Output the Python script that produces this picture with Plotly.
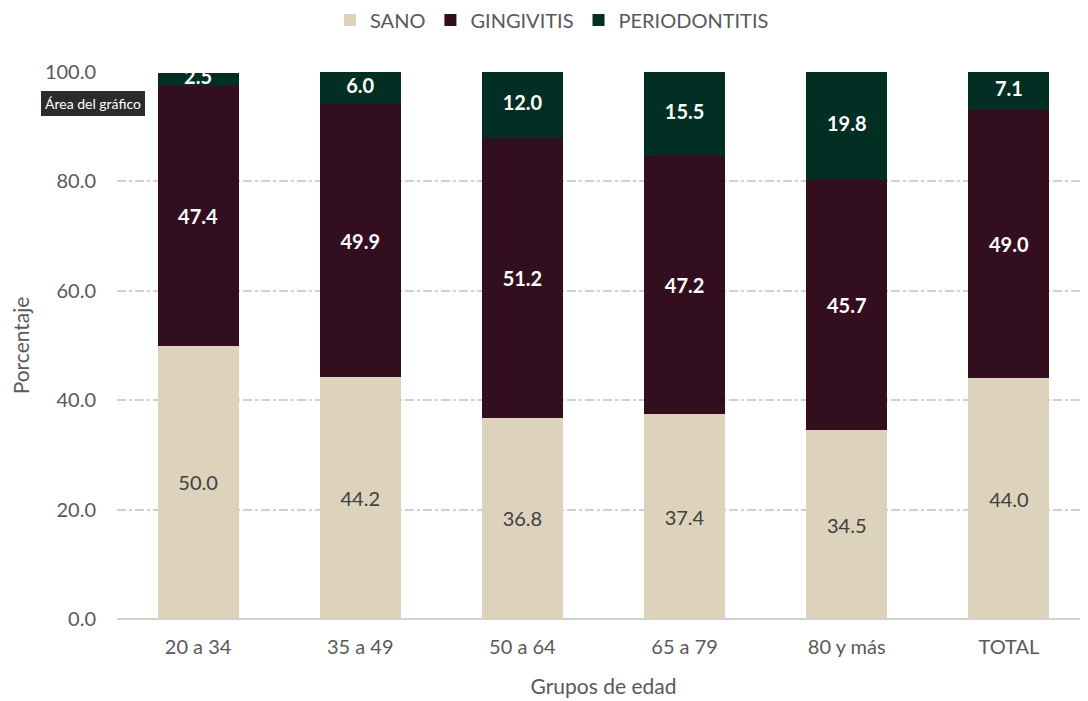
import plotly.graph_objects as go

categories = ["20 a 34", "35 a 49", "50 a 64", "65 a 79", "80 y más", "TOTAL"]
sano = [50.0, 44.2, 36.8, 37.4, 34.5, 44.0]
gingivitis = [47.4, 49.9, 51.2, 47.2, 45.7, 49.0]
periodontitis = [2.5, 6.0, 12.0, 15.5, 19.8, 7.1]
y_ticks = [0, 20, 40, 60, 80, 100]

FONT = "Lato"
fig = go.Figure()
series = [
    ("SANO", sano, "#DDD3BD", "#404040", True),
    ("GINGIVITIS", gingivitis, "#330E1F", "#FFFFFF", True),
    ("PERIODONTITIS", periodontitis, "#032E24", "#FFFFFF", False),
]
for name, vals, color, tcolor, bar_text in series:
    fig.add_trace(go.Bar(
        x=categories, y=vals, name=name, marker_color=color,
        marker_line_width=0,
        text=[f"{v:.1f}" for v in vals] if bar_text else None,
        textposition="inside", textangle=0,
        insidetextanchor="middle", constraintext="none",
        textfont=dict(color=tcolor, size=20, family=FONT,
                      weight=700 if tcolor == "#FFFFFF" else 400),
    ))

# labels of the top segment, placed at the segment midpoints
perio_mid = [s + g + p / 2 for s, g, p in zip(sano, gingivitis, periodontitis)]
fig.add_trace(go.Scatter(
    x=categories, y=perio_mid, mode="text",
    text=[f"{v:.1f}" for v in periodontitis],
    textfont=dict(color="#FFFFFF", size=20, family=FONT, weight=700),
    showlegend=False, hoverinfo="skip", cliponaxis=False,
))

fig.update_layout(
    barmode="stack", bargap=0.5,
    width=1088, height=701,
    margin=dict(l=109, r=6, t=64, b=90, autoexpand=False),
    plot_bgcolor="white", paper_bgcolor="white",
    font=dict(family=FONT, color="#595959", size=20),
    uniformtext=dict(minsize=20, mode="show"),
    legend=dict(orientation="h", xref="container", yref="container",
                x=0.5, xanchor="center", y=0.983, yanchor="middle",
                font=dict(size=20, color="#595959"), traceorder="normal",
                itemwidth=30),
    xaxis=dict(title=dict(text="Grupos de edad", standoff=22,
                          font=dict(size=21, color="#595959")),
               showline=False, ticks="", ticklabelstandoff=14, tickangle=0,
               tickfont=dict(size=20, color="#595959")),
    yaxis=dict(title=dict(text="Porcentaje", standoff=16,
                          font=dict(size=21, color="#595959")),
               range=[0, 100], tickvals=y_ticks,
               ticktext=[f"{v:.1f}" for v in y_ticks],
               showgrid=True, gridcolor="#D4CECE", griddash="dashdot", gridwidth=1.5,
               zeroline=True, zerolinecolor="#D0D0D0", zerolinewidth=2,
               ticks="", ticklabelstandoff=20,
               tickfont=dict(size=20, color="#595959")),
)

fig.add_annotation(
    text="Área del gráfico", xref="paper", yref="y", x=0, y=100,
    xanchor="center", yanchor="top", xshift=-24, yshift=-19, showarrow=False,
    font=dict(size=14, color="#FFFFFF", family=FONT),
    bgcolor="#2B2B2B", bordercolor="#2B2B2B", borderpad=3,
)

fig.write_html("out.html")
